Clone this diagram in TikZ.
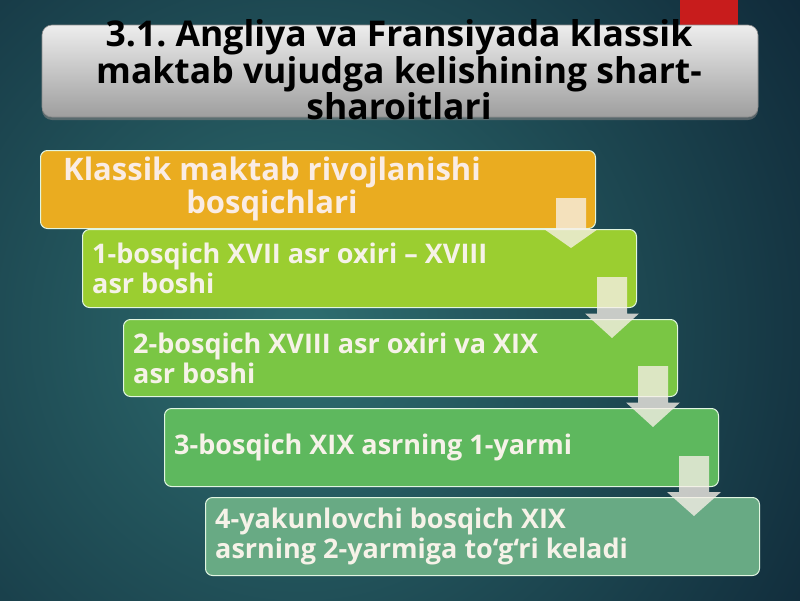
\documentclass[tikz,border=0pt]{standalone}
\usepackage{fontspec}
\setmainfont{Open Sans}
\frenchspacing
\usetikzlibrary{calc,shadows}
\definecolor{bginner}{RGB}{46,110,112}
\definecolor{bgouter}{RGB}{15,40,56}
\definecolor{gold}{RGB}{234,172,32}
\definecolor{gone}{RGB}{155,206,48}
\definecolor{gtwo}{RGB}{122,198,68}
\definecolor{gthree}{RGB}{94,184,94}
\definecolor{gfour}{RGB}{104,170,132}
\definecolor{boxline}{RGB}{225,245,225}
\definecolor{boxtxt}{RGB}{246,242,232}
\definecolor{goldtxt}{RGB}{250,236,228}
\definecolor{redtab}{RGB}{200,28,28}
\definecolor{arrowcol}{RGB}{248,240,232}
\begin{document}
\frenchspacing
\begin{tikzpicture}[x=1pt,y=-1pt,
  stepbox/.style={draw=boxline, line width=1pt, rounded corners=7pt,
    minimum width=554pt, minimum height=78pt, anchor=north west, inner sep=0pt},
  boxtext/.style={anchor=west, align=left, text=boxtxt, inner sep=0pt,
    font=\fontsize{27}{30}\selectfont\bfseries},
  titlebox/.style={rounded corners=10pt, minimum width=716pt, minimum height=92pt,
    top color=white!93!black, bottom color=white!62!black, draw=white!55!black, line width=0.6pt,
    drop shadow={shadow xshift=0pt, shadow yshift=-3pt, opacity=0.6}},
  titletext/.style={align=center, text=black, inner sep=0pt,
    font=\fontsize{35.5}{33}\selectfont\bfseries},
  arrowfill/.style={fill=arrowcol, fill opacity=0.78}
]
\useasboundingbox (0,0) rectangle (800,600);
\begin{scope}
\clip (0,0) rectangle (800,600);
\shade[inner color=bginner, outer color=bgouter] (300,330) circle (620);
\end{scope}
\fill[redtab] (680,0) rectangle (738,40);

\node[titlebox] (title) at (400,71) {};
\node[titletext] (tt) at (399,70) {3.1. Angliya va Fransiyada klassik\\maktab vujudga kelishining shart-\\sharoitlari};

\node[stepbox, fill=gold, minimum width=555pt] (b0) at (40,150) {};
\node[stepbox, fill=gone] (b1) at (82,229) {};
\node[stepbox, fill=gtwo, minimum height=77pt] (b2) at (123,319) {};
\node[stepbox, fill=gthree] (b3) at (164,408) {};
\node[stepbox, fill=gfour] (b4) at (205,497) {};

\node[text=goldtxt, align=center, inner sep=0pt, font=\fontsize{31}{33}\selectfont\bfseries] (t0) at (272,189) {Klassik maktab rivojlanishi\\bosqichlari};
\node[boxtext] (t1) at ($(b1.west)+(10,0)$) {1-bosqich XVII asr oxiri – XVIII\\asr boshi};
\node[boxtext] (t2) at ($(b2.west)+(10,0)$) {2-bosqich XVIII asr oxiri va XIX\\asr boshi};
\node[boxtext] (t3) at ($(b3.west)+(10,0)$) {3-bosqich XIX asrning 1-yarmi};
\node[boxtext] (t4) at ($(b4.west)+(10,0)$) {4-yakunlovchi bosqich XIX\\asrning 2-yarmiga to‘g‘ri keladi};

\newcommand{\stagarrow}[2]{%
  \fill[arrowfill] let \p1=(#1.south east), \p2=(#2.north east) in
    ({\x1-40pt},{\y1+31pt}) -- ({\x1-10pt},{\y1+31pt}) -- ({\x1-10pt},{(\y1+\y2)/2}) --
    ({\x1+2pt},{(\y1+\y2)/2}) -- ({\x1-25pt},{\y2-19pt}) -- ({\x1-52pt},{(\y1+\y2)/2}) --
    ({\x1-40pt},{(\y1+\y2)/2}) -- cycle;}
\stagarrow{b0}{b1}
\stagarrow{b1}{b2}
\stagarrow{b2}{b3}
\stagarrow{b3}{b4}
\end{tikzpicture}
\end{document}
